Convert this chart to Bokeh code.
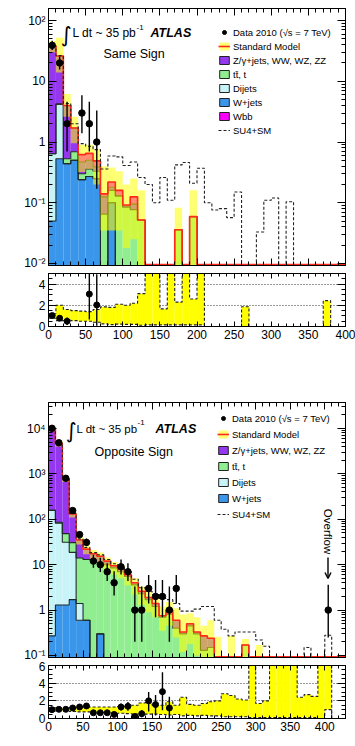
import numpy as np
from bokeh.plotting import figure
from bokeh.layouts import column
from bokeh.models import (Range1d, LinearAxis, FixedTicker, CustomJSTickFormatter,
                          Label, Legend, LegendItem, Arrow, OpenHead)
from bokeh.embed import file_html
from bokeh.resources import INLINE

# ------------------------------------------------------------------
# DATA  (10 GeV bins)
# ------------------------------------------------------------------
# Same Sign: 40 bins, 0-400 GeV
ss_wjets = [0.05, 0.53, 0.44, 0.50, 0.24, 0.27, 0.25, 0, 0.10, 0,
            0, 0, 0, 0, 0, 0, 0, 0, 0, 0,
            0, 0, 0, 0, 0, 0, 0, 0, 0, 0,
            0, 0, 0, 0, 0, 0, 0, 0, 0, 0]
ss_dijets = [0.59, 3.67, 0, 0, 0, 0, 0, 0, 0, 0,
             0, 0, 0, 0, 0, 0, 0, 0, 0, 0,
             0, 0, 0, 0, 0, 0, 0, 0, 0, 0,
             0, 0, 0, 0, 0, 0, 0, 0, 0, 0]
ss_ttbar = [0, 0, 0.09, 0.19, 0.06, 0.09, 0.08, 0.065, 0.06, 0.13,
            0.085, 0.077, 0.052, 0, 0, 0, 0, 0.036, 0, 0.059,
            0, 0, 0, 0, 0, 0, 0, 0, 0, 0,
            0, 0, 0, 0, 0, 0, 0, 0, 0, 0]
ss_zjets = [37.4, 21.8, 3.47, 1.01, 0.17, 0.14, 0.06, 0.06, 0.02, 0,
            0, 0.018, 0, 0, 0, 0, 0, 0, 0, 0,
            0, 0, 0, 0, 0, 0, 0, 0, 0, 0,
            0, 0, 0, 0, 0, 0, 0, 0, 0, 0]
ss_wbb = [0, 0, 0, 0, 0.15, 0.15, 0.10, 0.015, 0.04, 0.03,
          0.007, 0.03, 0, 0, 0, 0, 0, 0, 0, 0,
          0, 0, 0, 0, 0, 0, 0, 0, 0, 0,
          0, 0, 0, 0, 0, 0, 0, 0, 0, 0]
ss_band_hi = [46, 52, 6.2, 2.6, 0.9, 0.9, 0.75, 0.40, 0.38, 0.33,
              0.20, 0.25, 0.16, 0, 0, 0, 0, 0.083, 0, 0.16,
              0, 0, 0, 0, 0, 0, 0, 0, 0, 0,
              0, 0, 0, 0, 0, 0, 0, 0, 0, 0]
ss_band_lo = [30, 14, 2.6, 0.95, 0.32, 0.36, 0.20, 0.035, 0.035, 0.035,
              0.018, 0.025, 0.005, 0, 0, 0, 0, 0.005, 0, 0.005,
              0, 0, 0, 0, 0, 0, 0, 0, 0, 0,
              0, 0, 0, 0, 0, 0, 0, 0, 0, 0]
ss_su4 = [38.3, 26.4, 4.3, 2.0, 0.94, 0.85, 0.75, 0.36, 0.59, 0.57,
          0.41, 0.47, 0.26, 0.20, 0.10, 0.26, 0.11, 0.42, 0.46, 0.21,
          0.37, 0.10, 0.076, 0.08, 0.057, 0.15, 0, 0, 0.033, 0.11,
          0.12, 0, 0.104, 0, 0, 0, 0, 0, 0, 0]
ss_data_bins = [0, 1, 2, 4, 5, 6]
ss_data = [39, 20, 2, 3, 2, 1]
ss_data_elo = [6.2, 4.4, 1.3, 1.6, 1.3, 0.83]
ss_data_ehi = [7.3, 5.5, 2.6, 2.9, 2.6, 2.3]
ss_ratio_bins = [0, 1, 2, 5, 6]
ss_ratio = [1.03, 0.78, 0.50, 3.06, 2.03]
ss_ratio_elo = [0.17, 0.17, 0.35, 2.4, 1.95]
ss_ratio_ehi = [0.19, 0.21, 0.35, 2.4, 2.9]
ss_rband_hi = [1.2, 2.0, 1.6, 1.5, 1.45, 1.4, 1.6, 1.85, 1.8, 2.1,
               2.0, 2.2, 3.1, 6, 6, 1.66, 6, 2.3, 6, 2.6,
               6, 0, 0, 0, 0, 0, 1.87, 0, 0, 0,
               0, 0, 0, 0, 0, 0, 0, 2.44, 0, 0]
ss_rband_lo = [0.78, 0.55, 0.62, 0.55, 0.5, 0.5, 0.4, 0.25, 0.18, 0.22,
               0.2, 0.2, 0.12, 0.15, 0.15, 0.15, 0.15, 0.15, 0.15, 0.15,
               0.15, 0, 0, 0, 0, 0, 0, 0, 0, 0,
               0, 0, 0, 0, 0, 0, 0, 0, 0, 0]

# Opposite Sign: 43 bins, 0-430 GeV (bin 400-410 = overflow)
os_wjets = [0.27, 1.3, 1.3, 1.7, 0.6, 0.6, 0, 0.3, 0, 0,
            0, 0, 0, 0, 0, 0, 0, 0, 0, 0,
            0, 0, 0, 0, 0, 0, 0, 0, 0, 0,
            0, 0, 0, 0, 0, 0, 0, 0, 0, 0,
            0, 0, 0]
os_dijets = [156, 81, 30, 17, 0.8, 0, 0, 0, 0, 0,
             0, 0, 0, 0, 0, 0, 0, 0, 0, 0,
             0, 0, 0, 0, 0, 0, 0, 0, 0, 0,
             0, 0, 0, 0, 0, 0, 0, 0, 0, 0,
             0, 0, 0]
os_ttbar = [4, 4, 17, 12, 12.6, 12.4, 12.5, 10.7, 10, 8.5,
            7, 5.5, 3.6, 2.3, 1.7, 1.2, 0.7, 0.8, 0.4, 0.3,
            0.45, 0.3, 0.13, 0.15, 0, 0, 0, 0, 0.17, 0,
            0, 0, 0, 0, 0, 0, 0, 0, 0, 0,
            0, 0, 0]
os_zjets = [9940, 4574, 722, 100, 21, 9, 4.9, 4.4, 2.0, 1.0,
            1.0, 0.5, 0.4, 0.3, 0.2, 0.2, 0.05, 0.2, 0.2, 0.03,
            0.05, 0.03, 0.14, 0.09, 0, 0, 0, 0, 0, 0,
            0, 0, 0, 0, 0, 0, 0, 0, 0, 0,
            0, 0, 0]
os_band_hi = [11500, 5300, 880, 150, 41, 26, 21, 18.5, 14.5, 11.5,
              9.8, 7.5, 5.0, 3.3, 2.5, 1.9, 1.2, 1.5, 1.1, 0.8,
              0.85, 0.7, 0.45, 0.6, 0.26, 0, 0.27, 0, 0.23, 0,
              0.17, 0, 0, 0, 0, 0, 0, 0, 0, 0,
              0, 0, 0]
os_band_lo = [8700, 4000, 660, 110, 28, 17, 12.5, 10.5, 8.0, 6.0,
              5.0, 3.5, 2.2, 1.3, 0.9, 0.7, 0.35, 0.45, 0.25, 0.12,
              0.18, 0.1, 0.05, 0.07, 0.05, 0, 0.05, 0, 0.05, 0,
              0.05, 0, 0, 0, 0, 0, 0, 0, 0, 0,
              0, 0, 0]
os_su4 = [10150, 4700, 780, 135, 37, 24, 18.5, 16.5, 13, 10.5,
          9.0, 7.0, 4.8, 3.1, 2.6, 2.2, 1.8, 1.7, 1.4, 0.95,
          0.95, 1.05, 1.2, 1.2, 0.6, 0.38, 0.27, 0.33, 0.33, 0.33,
          0.22, 0.16, 0, 0, 0, 0, 0, 0.15, 0, 0,
          0.28, 0, 0]
os_data_bins = [0, 1, 2, 3, 4, 5, 6, 7, 8, 9, 10, 11, 12, 13, 14, 15, 16, 17, 18, 40]
os_data = [10100, 4850, 800, 156, 46, 31, 12, 10, 7, 4, 9, 7, 1, 1, 3, 2, 2, 1, 3, 1]
os_data_elo = [100, 70, 28, 12.5, 6.8, 5.6, 3.4, 3.1, 2.6, 1.9, 2.9, 2.6,
               0.8, 0.8, 1.6, 1.3, 1.3, 0.8, 1.6, 0.75]
os_data_ehi = [100, 70, 28, 12.5, 7.8, 6.6, 4.5, 4.3, 3.8, 3.2, 4.1, 3.8,
               2.3, 2.3, 2.9, 2.6, 2.6, 2.3, 2.9, 2.6]
os_ratio_bins = list(range(18))
os_ratio = [1.0, 1.04, 1.04, 1.19, 1.3, 1.42, 0.65, 0.65, 0.65, 0.46,
            1.3, 1.38, 0.23, 0.54, 2.0, 1.58, 3.04, 1.19]
os_ratio_elo = [0.02, 0.02, 0.04, 0.1, 0.19, 0.26, 0.19, 0.2, 0.22, 0.23,
                0.4, 0.5, 0.2, 0.4, 1.2, 1.24, 2.1, 1.19]
os_ratio_ehi = [0.02, 0.02, 0.04, 0.1, 0.19, 0.26, 0.19, 0.2, 0.22, 0.23,
                0.4, 0.5, 0.25, 0.4, 1.0, 1.07, 2.2, 1.27]
os_rband_hi = [1.2, 1.2, 1.2, 1.25, 1.3, 1.3, 1.3, 1.3, 1.3, 1.3,
               1.35, 1.4, 1.5, 1.75, 1.8, 1.5, 1.5, 1.9, 1.5, 2.4,
               1.6, 1.5, 1.7, 1.9, 2.0, 2.8, 2.6, 2.2, 2.1, 6.5,
               1.7, 2.0, 6.5, 6.5, 6.5, 6.5, 2.4, 2.7, 2.5, 6.5,
               6.5, 0, 0]
os_rband_lo = [0.85, 0.85, 0.85, 0.8, 0.75, 0.75, 0.7, 0.7, 0.65, 0.6,
               0.6, 0.55, 0.5, 0.45, 0.5, 0.5, 0.45, 0.4, 0.45, 0.3,
               0.35, 0.3, 0.35, 0.3, 0.3, 0.2, 0.2, 0.2, 0.2, 0.1,
               0.1, 0.1, 0.1, 0.1, 0.1, 0.1, 0.1, 0.1, 0.1, 0.0,
               1.0, 0, 0]

# ------------------------------------------------------------------
# STYLE / LAYOUT
# ------------------------------------------------------------------
FONT = "Liberation Sans"
C_Z, C_TT, C_DIJ, C_W, C_WBB = "#9437ef", "#90ee90", "#c8f4f8", "#3a96ea", "#ff00ff"
C_BAND, C_SM, C_LINE = "#ffff00", "#ff2a1a", "#1f2a2a"
WIDTH, FL, FR = 355, 48, 10
FW = WIDTH - FL - FR

edges_ss = np.arange(0, 410, 10).astype(float)
edges_os = np.arange(0, 440, 10).astype(float)


class Geo:
    def __init__(self, fig_top, frame_top, fh, xr, yr, logy):
        self.fig_top, self.frame_top, self.fh = fig_top, frame_top, fh
        self.xr, self.yr, self.logy = xr, yr, logy

    def to_data(self, px, py):
        x = self.xr[0] + (px - FL) / FW * (self.xr[1] - self.xr[0])
        t = (self.frame_top + self.fh - py) / self.fh
        if self.logy:
            a, b = np.log10(self.yr[0]), np.log10(self.yr[1])
            y = 10 ** (a + t * (b - a))
        else:
            y = self.yr[0] + t * (self.yr[1] - self.yr[0])
        return float(x), float(y)


def make_fig(geo, height, btop, bbot):
    p = figure(width=WIDTH, height=height, min_border_left=FL, min_border_right=FR,
               min_border_top=btop, min_border_bottom=bbot,
               x_range=Range1d(*geo.xr), y_range=Range1d(*geo.yr),
               y_axis_type="log" if geo.logy else "linear",
               output_backend="svg", toolbar_location=None)
    p.xgrid.visible = False
    p.ygrid.visible = False
    p.outline_line_color = "black"
    p.outline_line_width = 1
    p.background_fill_color = "white"
    p.border_fill_color = "white"
    return p


def style_axis(ax, ticks, minor, tin, mtin, labels=True, overrides=None):
    ax.ticker = FixedTicker(ticks=ticks, minor_ticks=minor)
    ax.axis_line_color = "black"
    ax.major_tick_line_color = "black"
    ax.minor_tick_line_color = "black"
    ax.major_tick_in = tin
    ax.major_tick_out = 0
    ax.minor_tick_in = mtin
    ax.minor_tick_out = 0
    if labels:
        ax.major_label_text_font = FONT
        ax.major_label_text_font_size = "12px"
        ax.major_label_text_color = "black"
        ax.major_label_standoff = 3
        if overrides:
            ax.major_label_overrides = overrides
    else:
        ax.formatter = CustomJSTickFormatter(code="return ''")
        ax.major_label_text_font_size = "0px"
        ax.major_label_standoff = 0


def frame_axes(p, xt, xm, yt, ym, xlab, ylab_over, xtin, ytin):
    style_axis(p.xaxis[0], xt, xm, xtin, xtin // 2 + 1, labels=xlab)
    style_axis(p.yaxis[0], yt, ym, ytin, ytin // 2, labels=True, overrides=ylab_over)
    top = LinearAxis()
    style_axis(top, xt, xm, xtin, xtin // 2 + 1, labels=False)
    p.add_layout(top, "above")
    right = LinearAxis()
    style_axis(right, yt, ym, ytin, ytin // 2, labels=False)
    p.add_layout(right, "right")


def step_xy(edges, vals):
    v = np.asarray(vals, float)
    return edges, np.append(v, v[-1])


def add_text(p, geo, px, py, text, size, align="left", angle=0.0, style="normal",
             font=FONT):
    x, y = geo.to_data(px, py)
    p.add_layout(Label(x=x, y=y, text=text, text_font=font, text_font_size=size,
                       text_align=align, text_baseline="middle", angle=angle,
                       text_font_style=style, text_color="black"))


def main_panel(p, geo, edges, comps, colors, band_lo, band_hi, su4,
               dbins, dvals, delo, dehi):
    ymin = geo.yr[0]
    hidden = ymin * 0.1
    vis_floor = ymin * 1.04
    n = len(edges) - 1
    cum = np.zeros(n)
    tops = []
    for vals, col in zip(comps, colors):
        v = np.asarray(vals, float)
        top = cum + v
        m = v > 0
        if m.any():
            p.quad(left=edges[:-1][m], right=edges[1:][m],
                   bottom=np.maximum(cum, hidden)[m], top=top[m],
                   fill_color=col, line_color=None)
        cum = top
        tops.append(top.copy())
    # component outlines
    for top in tops[:-1]:
        x, y = step_xy(edges, np.maximum(top, hidden))
        p.step(x=x, y=y, mode="after", line_color=C_LINE, line_width=1.1)
    sm = cum
    # uncertainty band
    bl = np.asarray(band_lo, float)
    bh = np.asarray(band_hi, float)
    m = bh > 0
    band = p.quad(left=edges[:-1][m], right=edges[1:][m],
                  bottom=np.maximum(bl, hidden)[m], top=bh[m],
                  fill_color=C_BAND, fill_alpha=0.55, line_color=None)
    x, y = step_xy(edges, np.maximum(sm, vis_floor))
    smline = p.step(x=x, y=y, mode="after", line_color=C_SM, line_width=1.6)
    x, y = step_xy(edges, np.maximum(np.asarray(su4, float), hidden))
    su4line = p.step(x=x, y=y, mode="after", line_color="#222222", line_width=1.1,
                     line_dash="3 2")
    # data
    cx = edges[np.asarray(dbins)] + 5
    dv = np.asarray(dvals, float)
    p.segment(x0=cx, y0=dv - np.asarray(delo), x1=cx, y1=dv + np.asarray(dehi),
              line_color="black", line_width=1.4)
    data = p.scatter(x=cx, y=dv, size=6.5, marker="circle", fill_color="black",
                     line_color="black")
    return band, smline, su4line, data


def ratio_panel(p, edges, rlo, rhi, rbins, rvals, relo, rehi):
    lo = np.asarray(rlo, float)
    hi = np.asarray(rhi, float)
    m = hi > 0
    p.quad(left=edges[:-1][m], right=edges[1:][m], bottom=lo[m], top=hi[m],
           fill_color="#ffff00", line_color=None)
    for arr in (hi, lo):
        x, y = step_xy(edges, arr)
        p.step(x=x, y=y, mode="after", line_color="#222222", line_width=1.1,
               line_dash="3 2")
    cx = edges[np.asarray(rbins)] + 5
    rv = np.asarray(rvals, float)
    p.segment(x0=cx, y0=rv - np.asarray(relo), x1=cx, y1=rv + np.asarray(rehi),
              line_color="black", line_width=1.4)
    p.scatter(x=cx, y=rv, size=6, marker="circle", fill_color="black", line_color="black")
    p.ygrid.visible = True
    p.ygrid.ticker = FixedTicker(ticks=[2, 4])
    p.ygrid.grid_line_color = "#333333"
    p.ygrid.grid_line_dash = "1 2"
    p.ygrid.grid_line_width = 1


def legend_boxes(p, geo, colors):
    # legend-only proxies, placed below the visible range (never visible in the frame)
    y0 = geo.yr[0] * 1e-3
    x0 = geo.xr[0]
    rs = []
    for col in colors:
        rs.append(p.quad(left=[x0], right=[x0], bottom=[y0], top=[y0 * 1.5],
                         fill_color=col, line_color="#222222", line_width=1))
    return rs


# ticks
x_major_ss = list(range(0, 401, 50))
x_minor_ss = list(range(0, 401, 10))
x_major_os = list(range(0, 401, 50))
x_minor_os = list(range(0, 431, 10))


def log_minor(lo_exp, hi_exp):
    return [k * 10.0 ** e for e in range(lo_exp, hi_exp + 1) for k in range(2, 10)]


sup = {-2: "10\u207b\u00b2", -1: "10\u207b\u00b9", 0: "1", 1: "10", 2: "10\u00b2",
       3: "10\u00b3", 4: "10\u2074"}

# ------------------------------------------------------------------
# Fig A : Same Sign main
# ------------------------------------------------------------------
geoA = Geo(0, 8, 257, (0, 400), (10 ** -2.033, 10 ** 2.198), True)
pA = make_fig(geoA, 269, 8, 4)
ss_comps = [ss_wjets, ss_dijets, ss_ttbar, ss_zjets, ss_wbb]
ss_cols = [C_W, C_DIJ, C_TT, C_Z, C_WBB]
bandA, smA, su4A, dataA = main_panel(pA, geoA, edges_ss, ss_comps, ss_cols,
                                     ss_band_lo, ss_band_hi, ss_su4,
                                     ss_data_bins, ss_data, ss_data_elo, ss_data_ehi)
yt = [0.01, 0.1, 1, 10, 100]
frame_axes(pA, x_major_ss, x_minor_ss, yt, log_minor(-3, 2), False,
           {0.01: sup[-2], 0.1: sup[-1], 1: sup[0], 10: sup[1], 100: sup[2]}, 7, 8)
boxesA = legend_boxes(pA, geoA, [C_Z, C_TT, C_DIJ, C_W, C_WBB])
legA = Legend(items=[
    LegendItem(label="Data 2010 (\u221as = 7 TeV)", renderers=[dataA]),
    LegendItem(label="Standard Model", renderers=[bandA, smA]),
    LegendItem(label="Z/\u03b3+jets, WW, WZ, ZZ", renderers=[boxesA[0]]),
    LegendItem(label="tt\u0304, t", renderers=[boxesA[1]]),
    LegendItem(label="Dijets", renderers=[boxesA[2]]),
    LegendItem(label="W+jets", renderers=[boxesA[3]]),
    LegendItem(label="Wbb", renderers=[boxesA[4]]),
    LegendItem(label="SU4+SM", renderers=[su4A]),
], location=(170, 128))
add_text(pA, geoA, 66, 34, "\u222b", "21px", align="center", font="DejaVu Sans")
add_text(pA, geoA, 72, 32, "L dt ~ 35 pb", "12px")
add_text(pA, geoA, 136, 27, "-1", "8px")
add_text(pA, geoA, 150, 32, "ATLAS", "12.5px", style="bold italic")
add_text(pA, geoA, 103, 53, "Same Sign", "12.5px")
add_text(pA, geoA, 11, 58, "Entries / 10 GeV", "12px", align="center", angle=np.pi / 2)

# ------------------------------------------------------------------
# Fig B : Same Sign ratio
# ------------------------------------------------------------------
geoB = Geo(269, 273, 53, (0, 400), (0, 5), False)
pB = make_fig(geoB, 96, 4, 39)
ratio_panel(pB, edges_ss, ss_rband_lo, ss_rband_hi, ss_ratio_bins, ss_ratio,
            ss_ratio_elo, ss_ratio_ehi)
frame_axes(pB, x_major_ss, x_minor_ss, [0, 2, 4], [0.5 * k for k in range(11)], True,
           None, 5, 8)
add_text(pB, geoB, 10, 299, "Data/MC", "12px", align="center", angle=np.pi / 2)
add_text(pB, geoB, 283, 355, "E", "14px")
add_text(pB, geoB, 293, 350, "miss", "8px")
add_text(pB, geoB, 292, 361, "T", "8px")
add_text(pB, geoB, 311, 355, "[GeV]", "13.5px")

# ------------------------------------------------------------------
# Fig C : Opposite Sign main
# ------------------------------------------------------------------
geoC = Geo(365, 402, 255, (0, 430), (10 ** -1.044, 10 ** 4.573), True)
pC = make_fig(geoC, 296, 37, 4)
os_comps = [os_wjets, os_dijets, os_ttbar, os_zjets]
os_cols = [C_W, C_DIJ, C_TT, C_Z]
bandC, smC, su4C, dataC = main_panel(pC, geoC, edges_os, os_comps, os_cols,
                                     os_band_lo, os_band_hi, os_su4,
                                     os_data_bins, os_data, os_data_elo, os_data_ehi)
ytC = [0.1, 1, 10, 100, 1000, 10000]
frame_axes(pC, x_major_os, x_minor_os, ytC, log_minor(-2, 4), False,
           {0.1: sup[-1], 1: sup[0], 10: sup[1], 100: sup[2], 1000: sup[3],
            10000: sup[4]}, 7, 8)
boxesC = legend_boxes(pC, geoC, [C_Z, C_TT, C_DIJ, C_W])
legC = Legend(items=[
    LegendItem(label="Data 2010 (\u221as = 7 TeV)", renderers=[dataC]),
    LegendItem(label="Standard Model", renderers=[bandC, smC]),
    LegendItem(label="Z/\u03b3+jets, WW, WZ, ZZ", renderers=[boxesC[0]]),
    LegendItem(label="tt\u0304, t", renderers=[boxesC[1]]),
    LegendItem(label="Dijets", renderers=[boxesC[2]]),
    LegendItem(label="W+jets", renderers=[boxesC[3]]),
    LegendItem(label="SU4+SM", renderers=[su4C]),
], location=(169, 135))
for lg, lh, sp in ((legA, 14, -1), (legC, 16, 0)):
    lg.label_text_font = FONT
    lg.label_text_font_size = "9.5px"
    lg.label_text_color = "black"
    lg.glyph_width = 12
    lg.glyph_height = 10
    lg.label_height = lh
    lg.label_standoff = 3
    lg.spacing = sp
    lg.padding = 0
    lg.margin = 0
    lg.border_line_alpha = 0
    lg.background_fill_alpha = 0
pA.add_layout(legA)
pC.add_layout(legC)

add_text(pC, geoC, 71, 430, "\u222b", "21px", align="center", font="DejaVu Sans")
add_text(pC, geoC, 76, 428, "L dt ~ 35 pb", "11.5px")
add_text(pC, geoC, 137, 422, "-1", "8px")
add_text(pC, geoC, 155, 428, "ATLAS", "12.5px", style="bold italic")
add_text(pC, geoC, 94, 451, "Opposite Sign", "12.5px")
add_text(pC, geoC, 10, 449, "Entries / 10 GeV", "12px", align="center", angle=np.pi / 2)
add_text(pC, geoC, 327, 531, "Overflow", "11.5px", align="center", angle=-np.pi / 2)
ax0, ay0 = geoC.to_data(327.5, 557)
ax1, ay1 = geoC.to_data(327.5, 578)
pC.add_layout(Arrow(end=OpenHead(size=6, line_width=1.4, line_color="black"),
                    x_start=ax0, y_start=ay0, x_end=ax1, y_end=ay1,
                    line_width=1.4, line_color="black"))

# ------------------------------------------------------------------
# Fig D : Opposite Sign ratio
# ------------------------------------------------------------------
geoD = Geo(661, 665, 53, (0, 430), (0, 6), False)
pD = make_fig(geoD, 85, 4, 28)
ratio_panel(pD, edges_os, os_rband_lo, os_rband_hi, os_ratio_bins, os_ratio,
            os_ratio_elo, os_ratio_ehi)
frame_axes(pD, x_major_os, x_minor_os, [0, 2, 4, 6], [0.5 * k for k in range(13)], True,
           None, 5, 8)
add_text(pD, geoD, 9, 690, "Data/MC", "12px", align="center", angle=np.pi / 2)
add_text(pD, geoD, 284, 739, "E", "12px")
add_text(pD, geoD, 292, 735.5, "miss", "7px")
add_text(pD, geoD, 292, 742, "T", "6.5px")
add_text(pD, geoD, 312, 739, "[GeV]", "12px")

layout = column(pA, pB, pC, pD, spacing=0)
open("out.html", "w").write(file_html(layout, INLINE))
